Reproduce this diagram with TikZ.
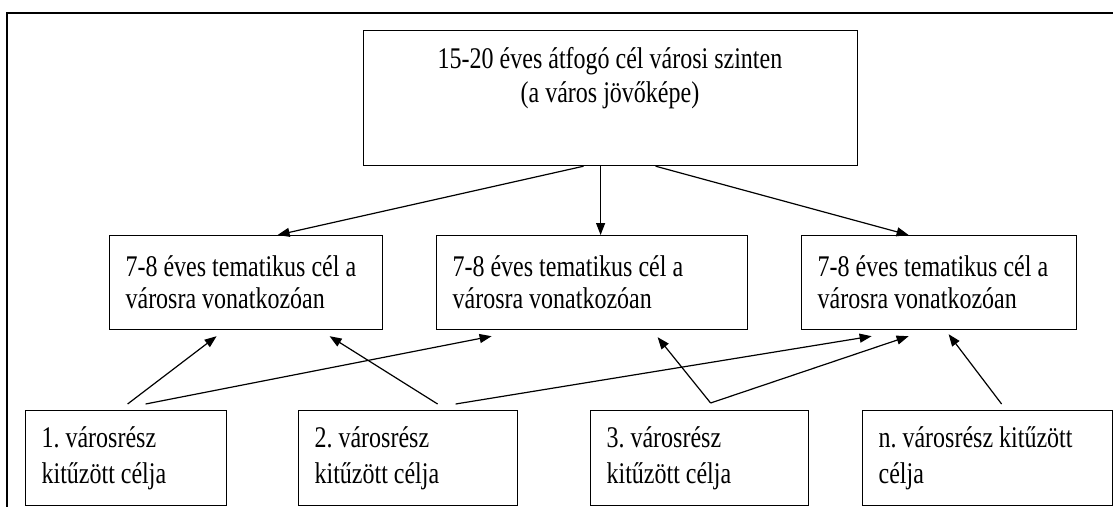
\documentclass[tikz,border=0pt]{standalone}
\usepackage{fontspec}
\setmainfont{Liberation Serif}[FakeStretch=0.8]
\frenchspacing
\usetikzlibrary{arrows.meta}
\begin{document}
\begin{tikzpicture}[x=1pt, y=-1pt, ->, >={Triangle[length=12pt,width=9pt]}, line width=1.2pt,
  main node/.style={rectangle, draw, anchor=north west, inner xsep=16pt, inner ysep=0pt, align=flush left, minimum height=94pt},
  part node/.style={main node, minimum height=95pt, font=\fontsize{30}{36}\selectfont}]
            \tikzstyle{every node}=[font=\fontsize{30}{32}\selectfont]
            \useasboundingbox (0,0) rectangle (1113,506);
            \draw[-, line width=2.2pt] (7,520) -- (7,13) -- (1120,13);

              \node[main node, minimum width=494pt, minimum height=135pt] (0) at (363,30) {};
              \node[anchor=north, align=center, inner sep=0pt, font=\fontsize{30}{34}\selectfont] (0t) at (610,47) {15-20 éves átfogó cél városi szinten\\(a város jövőképe)};
              \node[main node, minimum width=273pt, text width=241pt] (1) at (109,235) {7-8 éves tematikus cél a\\városra vonatkozóan};
              \node[main node, minimum width=311pt, text width=279pt] (2) at (436,235) {7-8 éves tematikus cél a\\városra vonatkozóan};
              \node[main node, minimum width=275pt, text width=243pt] (3) at (801,235) {7-8 éves tematikus cél a\\városra vonatkozóan};
              \node[part node, minimum width=201pt, text width=169pt] (4) at (25,410) {1. városrész\\kitűzött célja};
              \node[part node, minimum width=219pt, text width=187pt] (5) at (298,410) {2. városrész\\kitűzött célja};
              \node[part node, minimum width=218pt, text width=186pt] (6) at (590,410) {3. városrész\\kitűzött célja};
              \node[part node, minimum width=250pt, text width=218pt] (7) at (862,410) {n. városrész kitűzött\\célja};

              \path
                ([xshift=-27pt]0.south) edge ([xshift=31.5pt]1.north)
                ([xshift=-10pt]0.south) edge ([xshift=8.5pt]2.north)
                ([xshift=45pt]0.south) edge ([xshift=-30.5pt]3.north);

              \path
                ([xshift=1.5pt,yshift=6pt]4.north) edge ([xshift=-29.5pt,yshift=-6pt]1.south)
                ([xshift=19.5pt,yshift=6pt]4.north) edge ([xshift=-100.5pt,yshift=-6pt]2.south)
                ([xshift=29.5pt,yshift=6pt]5.north) edge ([xshift=83.5pt,yshift=-6pt]1.south)
                ([xshift=47.5pt,yshift=6pt]5.north) edge ([xshift=-67.5pt,yshift=-6pt]3.south)
                ([xshift=11pt,yshift=7pt]6.north) edge ([xshift=65.5pt,yshift=-7pt]2.south)
                ([xshift=11pt,yshift=7pt]6.north) edge ([xshift=-30.5pt,yshift=-6pt]3.south)
                ([xshift=14pt,yshift=6pt]7.north) edge ([xshift=9.5pt,yshift=-4pt]3.south);

            \end{tikzpicture}
\end{document}
